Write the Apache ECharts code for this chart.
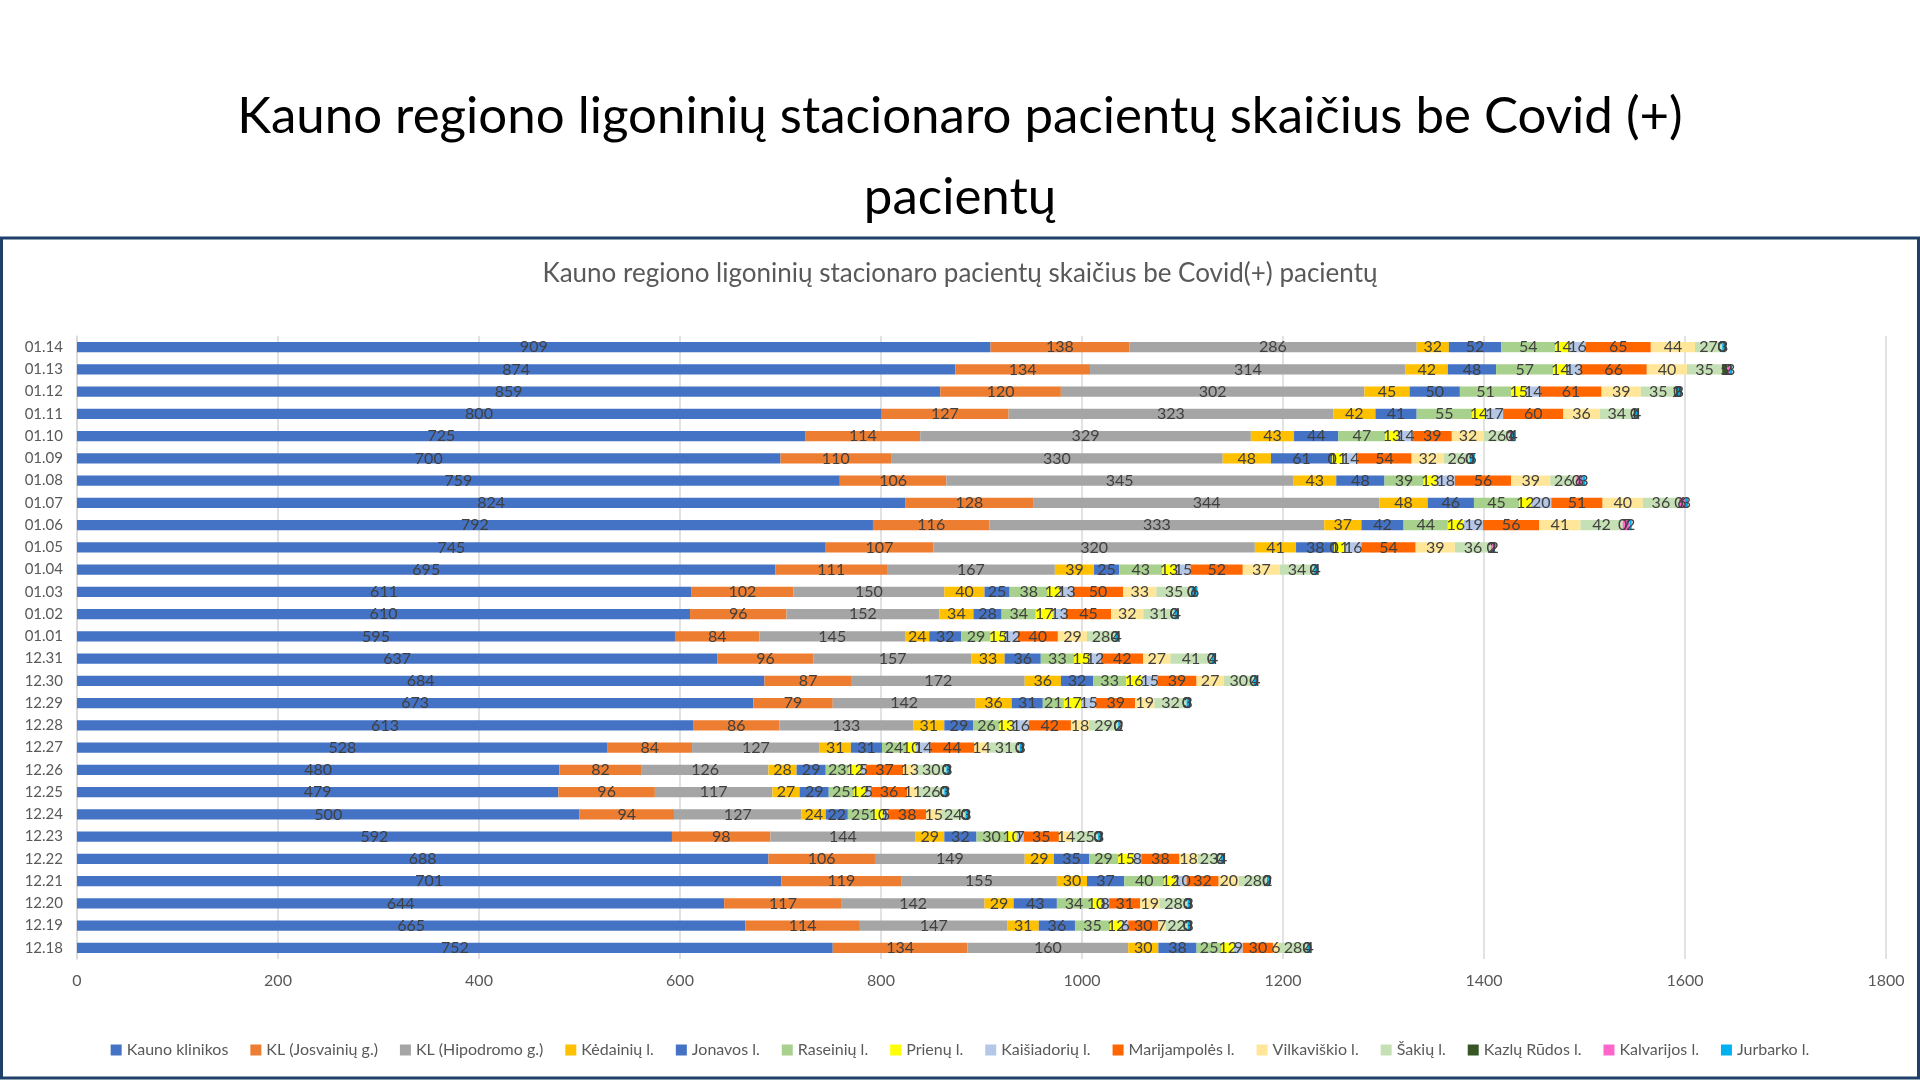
<!DOCTYPE html>
<html>
<head>
<meta charset="utf-8">
<script src="https://cdn.jsdelivr.net/npm/echarts@6/dist/echarts.min.js"></script>
<style>html,body{margin:0;padding:0;background:#fff;}#c{width:1920px;height:1080px;}</style>
</head>
<body>
<div id="c"></div>
<script>
const categories = ['12.18','12.19','12.20','12.21','12.22','12.23','12.24','12.25','12.26','12.27','12.28','12.29','12.30','12.31','01.01','01.02','01.03','01.04','01.05','01.06','01.07','01.08','01.09','01.10','01.11','01.12','01.13','01.14'];
const xTicks = [0,200,400,600,800,1000,1200,1400,1600,1800];

const kaunoKlinikos = [752,665,644,701,688,592,500,479,480,528,613,673,684,637,595,610,611,695,745,792,824,759,700,725,800,859,874,909];
const klJosvainiu   = [134,114,117,119,106,98,94,96,82,84,86,79,87,96,84,96,102,111,107,116,128,106,110,114,127,120,134,138];
const klHipodromo   = [160,147,142,155,149,144,127,117,126,127,133,142,172,157,145,152,150,167,320,333,344,345,330,329,323,302,314,286];
const kedainiu      = [30,31,29,30,29,29,24,27,28,31,31,36,36,33,24,34,40,39,41,37,48,43,48,43,42,45,42,32];
const jonavos       = [38,36,43,37,35,32,22,29,29,31,29,31,32,36,32,28,25,25,38,42,46,48,61,44,41,50,48,52];
const raseiniu      = [25,35,34,40,29,30,25,25,23,24,26,21,33,33,29,34,38,43,0,44,45,39,0,47,55,51,57,54];
const prienu        = [12,12,10,12,15,10,10,12,12,10,13,17,16,15,15,17,12,13,11,16,12,13,11,13,14,15,14,14];
const kaisiadoriu   = [9,6,8,10,8,7,5,5,5,14,16,15,15,12,12,13,13,15,16,19,20,18,14,14,17,14,13,16];
const marijampoles  = [30,30,31,32,38,35,38,36,37,44,42,39,39,42,40,45,50,52,54,56,51,56,54,39,60,61,66,65];
const vilkaviskio   = [6,7,19,20,18,14,15,11,13,14,18,19,27,27,29,32,33,37,39,41,40,39,32,32,36,39,40,44];
const sakiu         = [28,22,28,28,23,25,24,26,30,31,29,32,30,41,28,31,35,34,36,42,36,26,26,26,34,35,35,27];
const kazluRudos    = [0,0,0,0,0,0,0,0,0,0,0,0,0,0,0,0,0,0,0,0,0,0,0,0,1,2,5,0];
const kalvarijos    = [0,0,0,0,0,0,0,0,0,0,0,0,0,0,0,0,0,0,2,7,6,6,0,1,0,0,2,0];
const jurbarko      = [4,3,3,2,4,3,3,3,3,3,2,3,4,4,4,4,6,4,2,2,3,3,5,4,4,3,3,3];

const seriesNames = ['Kauno klinikos','KL (Josvainių g.)','KL (Hipodromo g.)','Kėdainių l.','Jonavos l.','Raseinių l.','Prienų l.','Kaišiadorių l.','Marijampolės l.','Vilkaviškio l.','Šakių l.','Kazlų Rūdos l.','Kalvarijos l.','Jurbarko l.'];
const seriesData = [kaunoKlinikos,klJosvainiu,klHipodromo,kedainiu,jonavos,raseiniu,prienu,kaisiadoriu,marijampoles,vilkaviskio,sakiu,kazluRudos,kalvarijos,jurbarko];
const colors = ['#4472C4','#ED7D31','#A5A5A5','#FFC000','#4472C4','#A9D18E','#FFFF00','#B4C7E7','#FF6600','#FFE699','#C5E0B4','#375623','#FF66CC','#00B0F0'];

const FONT = 'Lato, "Open Sans", sans-serif';
const chart = echarts.init(document.getElementById('c'));
chart.setOption({
  animation: false,
  color: colors,
  title: [
    {
      text: 'Kauno regiono ligoninių stacionaro pacientų skaičius be Covid (+)',
      left: 'center', top: 86,
      textStyle: { fontFamily: FONT, fontSize: 51, fontWeight: 'normal', color: '#000' }
    },
    {
      text: 'pacientų',
      left: 'center', top: 167,
      textStyle: { fontFamily: FONT, fontSize: 51, fontWeight: 'normal', color: '#000' }
    },
    {
      text: 'Kauno regiono ligoninių stacionaro pacientų skaičius be Covid(+) pacientų',
      left: 'center', top: 256,
      textStyle: { fontFamily: FONT, fontSize: 26, fontWeight: 'normal', color: '#595959' }
    }
  ],
  graphic: [
    { type: 'rect', shape: { x: 1.5, y: 238, width: 1917, height: 840 }, style: { fill: 'none', stroke: '#1F4068', lineWidth: 3 }, silent: true }
  ],
  legend: {
    data: seriesNames,
    bottom: 17, left: 'center',
    itemWidth: 11, itemHeight: 11, itemGap: 22, icon: 'rect',
    textStyle: { fontFamily: FONT, fontSize: 16, color: '#595959' }
  },
  grid: { left: 77, right: 34, top: 336, bottom: 121, containLabel: false },
  xAxis: {
    type: 'value', min: 0, max: 1800, interval: 200,
    axisLabel: { fontFamily: FONT, fontSize: 16, color: '#595959', margin: 14, formatter: v => String(v) },
    splitLine: { show: true, lineStyle: { color: '#D9D9D9', width: 1.5 } },
    axisLine: { show: false }, axisTick: { show: false }
  },
  yAxis: {
    type: 'category', data: categories,
    axisLabel: { fontFamily: FONT, fontSize: 15, color: '#595959', margin: 14 },
    axisLine: { show: true, lineStyle: { color: '#D9D9D9', width: 1.5 } },
    axisTick: { show: false }
  },
  series: seriesNames.map((n, i) => ({
    name: n, type: 'bar', stack: 'total', data: seriesData[i],
    barWidth: '46%',
    itemStyle: { color: colors[i] },
    label: { show: true, position: 'inside', fontFamily: FONT, fontSize: 16, color: '#404040' }
  }))
});
</script>
</body>
</html>
